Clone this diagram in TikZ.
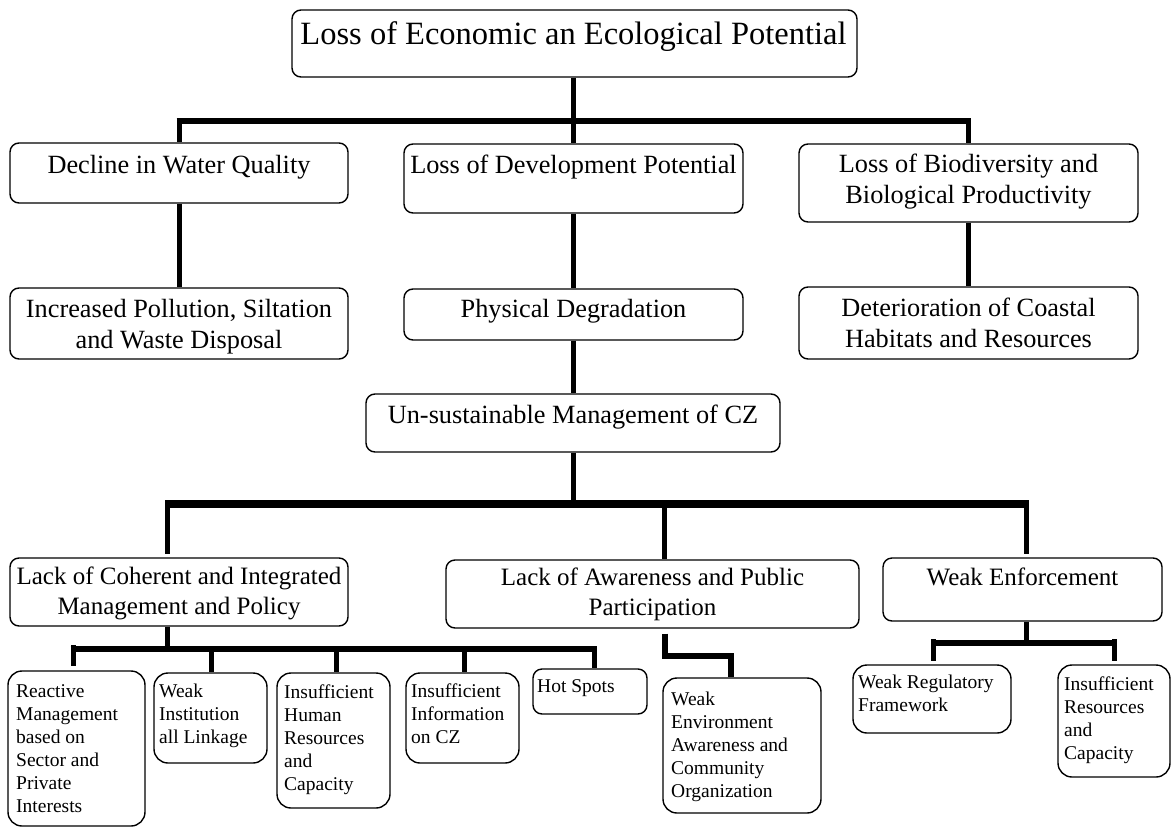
\documentclass[tikz,border=0pt]{standalone}
\usepackage{fontspec}
\setmainfont{Liberation Serif}
\usetikzlibrary{fit}
\tikzset{
  bx/.style={draw, line width=1.4pt, rounded corners=9pt, inner sep=0pt},
  sbx/.style={draw, line width=1.4pt, rounded corners=14pt, inner sep=0pt},
  lnk/.style={line width=5pt},
  barA/.style={line width=6.5pt},
  barB/.style={line width=7.5pt},
  barC/.style={line width=5.5pt},
  tA/.style={font=\fontsize{32.5}{38}\selectfont, anchor=base, inner sep=0pt},
  tB/.style={font=\fontsize{26.3}{30.5}\selectfont, anchor=base, align=center, inner sep=0pt},
  tC/.style={font=\fontsize{25}{30}\selectfont, anchor=base, align=center, inner sep=0pt},
  tD/.style={font=\fontsize{19.5}{23}\selectfont, anchor=base west, align=left, inner sep=0pt},
}
\begin{document}
\begin{tikzpicture}[x=1pt, y=-1pt]
\useasboundingbox (0,0) rectangle (1172,827);

% boxes
\node[bx, fit={(292,10) (857,77)}] (top) {};
\node[bx, fit={(10,143) (348,203)}] (decl) {};
\node[bx, fit={(404,144) (743,213)}] (dev) {};
\node[bx, fit={(799,144) (1138,222)}] (bio) {};
\node[bx, fit={(10,288) (348,359)}] (incr) {};
\node[bx, fit={(404,289) (743,340)}] (phys) {};
\node[bx, fit={(799,287) (1138,359)}] (det) {};
\node[bx, fit={(366,394) (780,452)}] (uns) {};
\node[bx, fit={(10,558) (348,626)}] (lcoh) {};
\node[bx, fit={(446,560) (859,628)}] (law) {};
\node[bx, fit={(883,558) (1162,621)}] (wenf) {};
\node[sbx, fit={(8,671) (145,826)}] (react) {};
\node[sbx, fit={(154,673) (267,763)}] (winst) {};
\node[sbx, fit={(277,673) (390,808)}] (inshum) {};
\node[sbx, fit={(406,673) (519,763)}] (insinfo) {};
\node[bx, fit={(533,669) (647,714)}] (hot) {};
\node[sbx, fit={(663,678) (821,813)}] (wenv) {};
\node[sbx, fit={(853,665) (1011,733)}] (wreg) {};
\node[sbx, fit={(1058,665) (1170,777)}] (insres) {};

% texts (base anchor = baseline of the last line)
\node[tA] (ttop) at (573.5,44) {Loss of Economic an Ecological Potential};
\node[tB] (tdecl) at (179,173) {Decline in Water Quality};
\node[tB] (tdev) at (573.5,173) {Loss of Development Potential};
\node[tB] (tbio) at (968.5,203) {Loss of Biodiversity and\\Biological Productivity};
\node[tB] (tincr) at (179,348) {Increased Pollution, Siltation\\and Waste Disposal};
\node[tB] (tphys) at (573.5,317) {Physical Degradation};
\node[tB] (tdet) at (968.5,347) {Deterioration of Coastal\\Habitats and Resources};
\node[tB] (tuns) at (573,423) {Un-sustainable Management of CZ};
\node[tC] (tlcoh) at (179,614) {Lack of Coherent and Integrated\\Management and Policy};
\node[tC] (tlaw) at (652.5,615) {Lack of Awareness and Public\\Participation};
\node[tC] (twenf) at (1022.5,585) {Weak Enforcement};
\node[tD] (treact) at (16,812) {Reactive\\Management\\based on\\Sector and\\Private\\Interests};
\node[tD] (twinst) at (159,743) {Weak\\Institution\\all Linkage};
\node[tD] (tinshum) at (284,790) {Insufficient\\Human\\Resources\\and\\Capacity};
\node[tD] (tinsinfo) at (411,743) {Insufficient\\Information\\on CZ};
\node[tD] (thot) at (537,692) {Hot Spots};
\node[tD] (twenv) at (671,797) {Weak\\Environment\\Awareness and\\Community\\Organization};
\node[tD] (twreg) at (858,711.5) {Weak Regulatory\\Framework};
\node[tD] (tinsres) at (1064,759) {Insufficient\\Resources\\and\\Capacity};

% level 1 -> 2
\coordinate (j1) at (573,121);
\draw[lnk] (j1 |- top.south) -- (j1);
\draw[barA] ([xshift=-2.5pt]decl.north |- j1) -- ([xshift=2.5pt]bio.north |- j1);
\draw[lnk] (decl.north |- j1) -- (decl.north);
\draw[lnk] (dev.north |- j1) -- (dev.north);
\draw[lnk] (bio.north |- j1) -- (bio.north);

% level 2 -> 3
\draw[lnk] (decl.south) -- (incr.north);
\draw[lnk] (dev.south) -- (phys.north);
\draw[lnk] (bio.south) -- (det.north);
\draw[lnk] (phys.south) -- (phys.south |- uns.north);

% level 4 -> 5
\coordinate (j2) at (573,504);
\coordinate (b2l) at (167.6,504);
\coordinate (b2m) at (664,504);
\coordinate (b2r) at (1026,504);
\draw[lnk] (j2 |- uns.south) -- (j2);
\draw[barB] ([xshift=-2.5pt]b2l) -- ([xshift=2.5pt]b2r);
\draw[lnk, shorten >=3pt] (b2l) -- (b2l |- lcoh.north);
\draw[lnk] (b2m) -- (b2m |- law.north);
\draw[lnk, shorten >=3pt] (b2r) -- (b2r |- wenf.north);

% lack of coherent -> level 6
\coordinate (b3) at (167.6,649);
\coordinate (b3l) at (73,649);
\coordinate (b3a) at (211.6,649);
\coordinate (b3b) at (336,649);
\coordinate (b3c) at (464,649);
\coordinate (b3r) at (594,649);
\draw[lnk] (b3 |- lcoh.south) -- (b3);
\draw[barC] ([xshift=-2.5pt]b3l) -- ([xshift=2.5pt]b3r);
\draw[lnk, shorten >=4pt] ([yshift=4pt]b3l) -- (b3l |- react.north);
\draw[lnk] (b3a) -- (b3a |- winst.north);
\draw[lnk] (b3b) -- (b3b |- inshum.north);
\draw[lnk] (b3c) -- (b3c |- insinfo.north);
\draw[lnk] (b3r) -- (b3r |- hot.north);

% lack of awareness -> weak environment
\coordinate (e1) at (665,656);
\coordinate (e2) at (731,656);
\draw[barC, shorten <=5pt] (e1 |- law.south) -- (e1) -- (e2) -- (e2 |- wenv.north);

% weak enforcement -> level 6
\coordinate (b4) at (1026,643);
\coordinate (b4l) at (933.6,643);
\coordinate (b4r) at (1114.7,643);
\draw[lnk] (b4 |- wenf.south) -- (b4);
\draw[barC] ([xshift=-2.5pt]b4l) -- ([xshift=2.5pt]b4r);
\draw[lnk, shorten >=3pt] ([yshift=4pt]b4l) -- (b4l |- wreg.north);
\draw[lnk, shorten >=3pt] ([yshift=4pt]b4r) -- (b4r |- insres.north);
\end{tikzpicture}
\end{document}
